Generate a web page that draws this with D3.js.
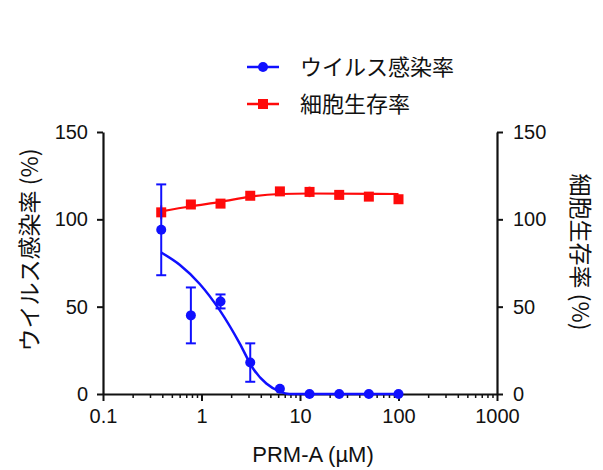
<!DOCTYPE html>
<meta charset="utf-8">
<script src="https://cdn.jsdelivr.net/npm/d3@7"></script>
<style>
  body { margin: 0; background: #fff; }
  text { font-family: "Liberation Sans", Arial, sans-serif; fill: #111; }
  .jp { font-family: "Noto Sans CJK JP", sans-serif; }
</style>
<div id="chart"></div>
<script>

// concentrations (uM), twofold dilutions
var conc = [0.39, 0.78, 1.56, 3.125, 6.25, 12.5, 25, 50, 100];

// virus infection rate (%) and SD
var infection = [94, 45, 53, 18, 3, 0, 0, 0, 0];
var infectionErr = [26, 16, 4, 11, 1, 0, 0, 0, 0];

// cell viability (%) and SD
var viability = [104, 108.5, 109, 113.5, 116, 115.7, 114, 113, 111.5];
var viabilityErr = [4, 1, 1, 1, 2, 3, 1, 1, 1];

// fitted curves, points
var infectionFitX = [0.39, 0.6, 0.96, 1.53, 2.44, 3.3, 4.55, 6.2, 7.8, 100];
var infectionFitY = [81, 74, 63, 48, 29, 15, 6, 1.5, 0, 0];
var viabilityFitX = [0.39, 0.78, 1.56, 3.125, 6.25, 12.5, 100];
var viabilityFitY = [104.5, 107.5, 110, 113, 114.5, 114.8, 114.5];

var xTicks = [0.1, 1, 10, 100, 1000];
var yTicks = [0, 50, 100, 150];

var seriesNames = ["ウイルス感染率", "細胞生存率"];
var blue = "#1010ff", red = "#ff0a0a";

var svg = d3.select("#chart").append("svg")
  .attr("width", 603)
  .attr("height", 470);

var x = d3.scaleLog().domain([0.1, 1000]).range([103, 497]);
var y = d3.scaleLinear().domain([0, 150]).range([394, 132]);

// minor ticks on x
var minor = [];
[0.1, 1, 10, 100].forEach(function(d) {
  for (var k = 2; k <= 9; k++) minor.push(d * k);
});

svg.append("g")
  .attr("transform", "translate(0,394)")
  .call(d3.axisBottom(x).tickValues(minor).tickSize(4).tickFormat(""))
  .call(function(g) { g.select(".domain").remove(); })
  .selectAll("line").attr("stroke-width", 1.5);

var xAxis = svg.append("g")
  .attr("transform", "translate(0,394)")
  .call(d3.axisBottom(x).tickValues(xTicks).tickSize(7).tickSizeOuter(0)
    .tickFormat(function(d) { return String(d); }));
xAxis.selectAll("text").attr("font-size", 20).attr("dy", "0.95em");

var yLeft = svg.append("g")
  .attr("transform", "translate(103,0)")
  .call(d3.axisLeft(y).tickValues(yTicks).tickSize(6).tickSizeOuter(0).tickPadding(9));
var yRight = svg.append("g")
  .attr("transform", "translate(497,0)")
  .call(d3.axisRight(y).tickValues(yTicks).tickSize(6).tickSizeOuter(0).tickPadding(10));

svg.selectAll(".domain").attr("stroke-width", 2.2).attr("stroke", "#111");
svg.selectAll(".tick line").attr("stroke", "#111");
xAxis.selectAll(".tick line").attr("stroke-width", 2);
yLeft.selectAll("line").attr("stroke-width", 2);
yRight.selectAll("line").attr("stroke-width", 2);
svg.selectAll(".tick text").attr("font-size", 20)
  .attr("font-family", "Liberation Sans, Arial, sans-serif").attr("fill", "#111");

// axis titles
svg.append("text")
  .attr("x", 313).attr("y", 462)
  .attr("text-anchor", "middle")
  .attr("font-size", 22)
  .text("PRM-A (µM)");

svg.append("text")
  .attr("class", "jp")
  .attr("transform", "translate(38,250) rotate(-90)")
  .attr("text-anchor", "middle")
  .attr("font-size", 23)
  .text("ウイルス感染率 (%)");

svg.append("text")
  .attr("class", "jp")
  .attr("transform", "translate(572,252) rotate(90)")
  .attr("text-anchor", "middle")
  .attr("font-size", 23)
  .text("細胞生存率 (%)");

var line = d3.line()
  .x(function(d) { return x(d[0]); })
  .y(function(d) { return y(d[1]); })
  .curve(d3.curveMonotoneX);

// red: viability
svg.append("path")
  .datum(d3.zip(viabilityFitX, viabilityFitY))
  .attr("d", line)
  .attr("fill", "none").attr("stroke", red).attr("stroke-width", 2.2);

var redPts = d3.zip(conc, viability, viabilityErr);
var redG = svg.append("g").attr("stroke", red).attr("stroke-width", 2);
redG.selectAll("line.v").data(redPts).enter().append("line")
  .attr("x1", function(d) { return x(d[0]); })
  .attr("x2", function(d) { return x(d[0]); })
  .attr("y1", function(d) { return y(d[1] - d[2]); })
  .attr("y2", function(d) { return y(d[1] + d[2]); });
svg.selectAll("rect.red").data(redPts).enter().append("rect")
  .attr("x", function(d) { return x(d[0]) - 5; })
  .attr("y", function(d) { return y(d[1]) - 5; })
  .attr("width", 10).attr("height", 10)
  .attr("fill", red);

// blue: infection
svg.append("path")
  .datum(d3.zip(infectionFitX, infectionFitY))
  .attr("d", line)
  .attr("fill", "none").attr("stroke", blue).attr("stroke-width", 2.5);

var bluePts = d3.zip(conc, infection, infectionErr);
var blueG = svg.append("g").attr("stroke", blue).attr("stroke-width", 2);
blueG.selectAll("line.v").data(bluePts.filter(function(d) { return d[2] > 0; })).enter().append("line")
  .attr("x1", function(d) { return x(d[0]); })
  .attr("x2", function(d) { return x(d[0]); })
  .attr("y1", function(d) { return y(d[1] - d[2]); })
  .attr("y2", function(d) { return y(d[1] + d[2]); });
["-", "+"].forEach(function(s) {
  blueG.selectAll("line.cap" + (s === "+" ? "t" : "b"))
    .data(bluePts.filter(function(d) { return d[2] > 2; })).enter().append("line")
    .attr("x1", function(d) { return x(d[0]) - 5; })
    .attr("x2", function(d) { return x(d[0]) + 5; })
    .attr("y1", function(d) { return y(s === "+" ? d[1] + d[2] : d[1] - d[2]); })
    .attr("y2", function(d) { return y(s === "+" ? d[1] + d[2] : d[1] - d[2]); });
});
svg.selectAll("circle.blue").data(bluePts).enter().append("circle")
  .attr("cx", function(d) { return x(d[0]); })
  .attr("cy", function(d) { return y(d[1]); })
  .attr("r", 5)
  .attr("fill", blue);

// legend
var legend = svg.append("g");
[[blue, 67], [red, 104]].forEach(function(c, i) {
  legend.append("line")
    .attr("x1", 247).attr("x2", 279).attr("y1", c[1]).attr("y2", c[1])
    .attr("stroke", c[0]).attr("stroke-width", 2.5);
  if (i === 0) {
    legend.append("circle").attr("cx", 263).attr("cy", c[1]).attr("r", 5).attr("fill", c[0]);
  } else {
    legend.append("rect").attr("x", 258).attr("y", c[1] - 5)
      .attr("width", 10).attr("height", 10).attr("fill", c[0]);
  }
  legend.append("text")
    .attr("class", "jp")
    .attr("x", 300).attr("y", c[1])
    .attr("dy", "0.36em")
    .attr("font-size", 22)
    .text(seriesNames[i]);
});

</script>
